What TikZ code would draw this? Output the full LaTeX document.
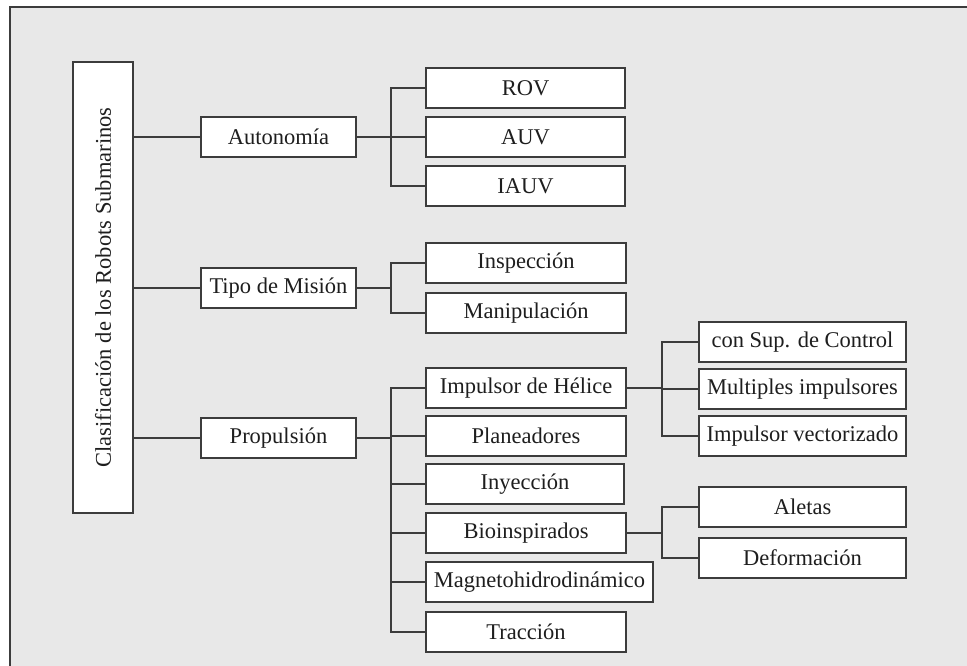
\documentclass[tikz,border=0pt]{standalone}
\usepackage{fontspec}
\setmainfont{Liberation Serif}
\definecolor{bg}{HTML}{E8E8E8}
\definecolor{ln}{HTML}{3C3C3C}
\definecolor{tx}{HTML}{1E1E1E}
\tikzset{
  box/.style={draw=ln, fill=white, line width=1.9pt, inner sep=0pt,
    minimum height=40pt, text=tx, font=\fontsize{22.5}{27}\selectfont},
  mid/.style={box, minimum width=155pt},
  leaf/.style={box, minimum width=200pt},
  sub/.style={box, minimum width=207pt},
  conn/.style={draw=ln, line width=1.9pt},
}
\begin{document}
\begin{tikzpicture}[x=1pt,y=-1pt]
\useasboundingbox (0,0) rectangle (967,666);
\fill[bg] (10,7) rectangle (967,666);
\draw[ln, line width=2pt] (10,666) -- (10,7) -- (967,7);

\node[box, minimum width=60pt, minimum height=451pt] (root) at (103,287.5) {};
\node[rotate=90, text=tx, font=\fontsize{22.5}{27}\selectfont] (rootlbl) at (root.center) {Clasificación de los Robots Submarinos};

\node[mid] (auto) at (278.5,137) {Autonomía};
\node[mid] (tipo) at (278.5,288) {Tipo de Misión};
\node[mid] (prop) at (278.5,438) {Propulsión};

\node[leaf, minimum width=199pt] (rov) at (525.5,88) {ROV};
\node[leaf, minimum width=199pt] (auv) at (525.5,137) {AUV};
\node[leaf, minimum width=199pt] (iauv) at (525.5,186) {IAUV};

\node[leaf] (insp) at (526,263) {Inspección};
\node[leaf] (mani) at (526,313) {Manipulación};

\node[leaf] (helice) at (526,388) {Impulsor de Hélice};
\node[leaf] (plan) at (526,436) {Planeadores};
\node[leaf, minimum width=198pt] (iny) at (525,484) {Inyección};
\node[leaf] (bio) at (526,533) {Bioinspirados};
\node[leaf, minimum width=227pt] (mag) at (539.5,582) {Magnetohidrodinámico};
\node[leaf] (trac) at (526,632) {Tracción};

\node[sub] (sup) at (802.5,342) {con Sup. de Control};
\node[sub] (mult) at (802.5,389) {Multiples impulsores};
\node[sub] (vect) at (802.5,436) {Impulsor vectorizado};
\node[sub] (aletas) at (802.5,507) {Aletas};
\node[sub] (deform) at (802.5,558) {Deformación};

\coordinate (b1) at (391,137);
\coordinate (b2) at (391,288);
\coordinate (b3) at (391,438);
\coordinate (b4) at (662,388);
\coordinate (b5) at (662,533);

% root to middle level
\foreach \m in {auto,tipo,prop} \draw[conn] (root.east |- \m.west) -- (\m.west);

% Autonomia
\draw[conn] (auto.east) -- (b1);
\draw[conn] (rov.west) -| (b1 |- iauv.west) -- (iauv.west);
\draw[conn] (b1 |- auv.west) -- (auv.west);

% Tipo de Mision
\draw[conn] (tipo.east) -- (b2);
\draw[conn] (insp.west) -| (b2 |- mani.west) -- (mani.west);

% Propulsion
\draw[conn] (prop.east) -- (b3);
\draw[conn] (helice.west) -| (b3 |- trac.west) -- (trac.west);
\foreach \m in {plan,iny,bio,mag} \draw[conn] (b3 |- \m.west) -- (\m.west);

% Impulsor de Helice
\draw[conn] (helice.east) -- (b4);
\draw[conn] (sup.west) -| (b4 |- vect.west) -- (vect.west);
\draw[conn] (b4 |- mult.west) -- (mult.west);

% Bioinspirados
\draw[conn] (bio.east) -- (b5);
\draw[conn] (aletas.west) -| (b5 |- deform.west) -- (deform.west);
\end{tikzpicture}
\end{document}
